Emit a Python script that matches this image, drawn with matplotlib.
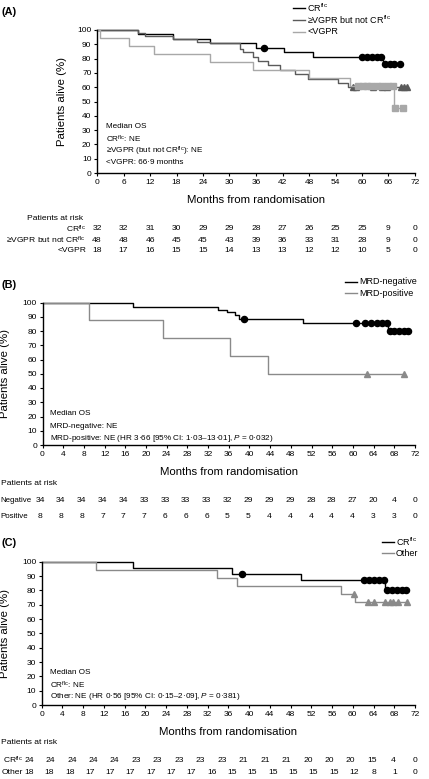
import numpy as np
import matplotlib
matplotlib.use('Agg')
import matplotlib.pyplot as plt
from matplotlib.lines import Line2D

plt.rcParams['font.family'] = ['Liberation Sans', 'DejaVu Sans']
plt.rcParams['mathtext.fontset'] = 'custom'
plt.rcParams['mathtext.rm'] = 'Liberation Sans'
plt.rcParams['mathtext.it'] = 'Liberation Sans:italic'
plt.rcParams['mathtext.bf'] = 'Liberation Sans:bold'

# ---- panel A data (months, % alive) ----
a_cr_t = [0, 9.2, 17.3, 25.6, 36.1, 42.4, 49.0, 64.7]
a_cr_s = [100, 96.9, 93.8, 90.6, 87.5, 84.4, 81.3, 76.0]
a_cr_end = 68.5
a_cr_cens = [37.8, 60.0, 61.1, 62.2, 63.3, 64.4, 65.3, 66.3, 67.3, 68.5]

a_vg_t = [0, 9.2, 10.9, 17.3, 22.6, 25.6, 32.4, 33.0, 35.3, 36.5, 38.7, 41.4, 44.8, 47.8, 54.6, 56.8]
a_vg_s = [100, 97.9, 95.8, 93.8, 91.7, 90.6, 86.5, 84.4, 81.3, 78.1, 75.5, 72.3, 69.2, 66.0, 63.0, 60.0]
a_vg_end = 70.2
a_vg_cens = [58.0, 58.6, 62.5, 64.6, 65.6, 68.8, 69.6, 70.2]

a_lo_t = [0, 0.6, 7.3, 12.8, 25.6, 35.4, 48.0, 57.2, 67.2]
a_lo_s = [100, 94.4, 88.9, 83.3, 77.8, 72.2, 66.7, 61.1, 45.8]
a_lo_end = 69.3
a_lo_cens = [59.2, 60.2, 61.2, 62.0, 63.5, 64.5, 66.0, 67.0, 67.4, 69.3]

a_risk_labels = ['CR$^{\\mathrm{flc}}$', '\u2265VGPR but not CR$^{\\mathrm{flc}}$', '<VGPR']
a_risk = [[32, 32, 31, 30, 29, 29, 28, 27, 26, 25, 25, 9, 0],
          [48, 48, 46, 45, 45, 43, 39, 36, 33, 31, 28, 9, 0],
          [18, 17, 16, 15, 15, 14, 13, 13, 12, 12, 10, 5, 0]]

# ---- panel B data ----
b_neg_t = [0, 17.5, 34.0, 35.6, 37.2, 38.0, 50.4, 66.8]
b_neg_s = [100, 97.1, 95.0, 93.5, 91.2, 88.2, 85.3, 80.3]
b_neg_end = 70.6
b_neg_cens = [39.0, 60.5, 62.4, 63.5, 64.6, 65.7, 66.6, 67.2, 68.0, 68.9, 69.8, 70.6]

b_pos_t = [0, 9.0, 23.2, 36.2, 43.5]
b_pos_s = [100, 87.5, 75.0, 62.5, 50.0]
b_pos_end = 69.9
b_pos_cens = [62.8, 69.9]

b_risk_labels = ['Negative', 'Positive']
b_risk = [[34, 34, 34, 34, 34, 33, 33, 33, 33, 32, 29, 29, 29, 28, 28, 27, 20, 4, 0],
          [8, 8, 8, 7, 7, 7, 6, 6, 6, 5, 5, 4, 4, 4, 4, 4, 3, 3, 0]]

# ---- panel C data ----
c_cr_t = [0, 17.7, 36.8, 50.0, 66.3]
c_cr_s = [100, 95.8, 91.7, 87.5, 80.2]
c_cr_end = 70.3
c_cr_cens = [38.7, 62.1, 63.1, 64.1, 65.1, 66.0, 66.6, 67.5, 68.5, 69.4, 70.3]

c_ot_t = [0, 10.4, 33.9, 37.6, 57.8, 60.4]
c_ot_s = [100, 94.4, 88.9, 83.3, 77.8, 72.2]
c_ot_end = 70.5
c_ot_cens = [60.2, 62.9, 64.1, 66.3, 67.1, 67.8, 68.7, 70.5]

c_risk_labels = ['CR$^{\\mathrm{flc}}$', 'Other']
c_risk = [[24, 24, 24, 24, 24, 23, 23, 23, 23, 23, 21, 21, 21, 20, 20, 20, 15, 4, 0],
          [18, 18, 18, 17, 17, 17, 17, 17, 17, 16, 15, 15, 15, 15, 15, 15, 12, 8, 1, 0]]

W, H = 429, 779
fig = plt.figure(figsize=(W / 100, H / 100), dpi=100)

BLACK = '#000000'
DGREY = '#5a5a5a'
LGREY = '#a8a8a8'
MGREY = '#8a8a8a'
FS_TICK = 6.0
FS_SMALL = 5.9
FS_RISK = 6.1
FS_LEG = 6.5
FS_LAB = 8.2


def fx(x):
    return x / W


def fy(y):
    return 1 - y / H


def make_ax(x0, x1, ytop, ybot, step):
    ax = fig.add_axes([fx(x0), fy(ybot), (x1 - x0) / W, (ybot - ytop) / H])
    ax.set_xlim(0, 72)
    ax.set_ylim(0, 100)
    ax.set_xticks(np.arange(0, 73, step))
    ax.set_yticks(np.arange(0, 101, 10))
    for sp in ['top', 'right']:
        ax.spines[sp].set_visible(False)
    for sp in ['left', 'bottom']:
        ax.spines[sp].set_linewidth(1.0)
    ax.tick_params(length=2.5, width=0.8, pad=1.5, labelsize=FS_TICK)
    fig.text(fx((x0 + x1) / 2), fy(ybot + 27), 'Months from randomisation',
             ha='center', va='center', fontsize=FS_LAB)
    return ax


def km(ax, t, s, end, cens, color, marker, ms):
    tt = np.append(t, end)
    ss = np.append(s, s[-1])
    ax.step(tt, ss, where='post', color=color, lw=1.0, clip_on=False)
    idx = np.searchsorted(t, cens, side='right') - 1
    ax.plot(cens, np.asarray(s)[idx], ls='none', marker=marker, ms=ms,
            color=color, mec=color, clip_on=False)


def legend(x, ys, labels, colors):
    for y, lab, c in zip(ys, labels, colors):
        fig.add_artist(Line2D([fx(x), fx(x + 12)], [fy(y), fy(y)], color=c, lw=1.0))
        fig.text(fx(x + 14), fy(y), lab, ha='left', va='center', fontsize=FS_LEG)


def notes(x, ys, lines):
    for y, s in zip(ys, lines):
        fig.text(fx(x), fy(y), s, ha='left', va='center', fontsize=FS_SMALL)


def risk(title_xy, rows, labels, ys, label_x, label_ha, x_first, x_last, lab_fs=FS_RISK):
    fig.text(fx(title_xy[0]), fy(title_xy[1]), 'Patients at risk', ha='left',
             va='center', fontsize=FS_RISK)
    for row, lab, y in zip(rows, labels, ys):
        fig.text(fx(label_x), fy(y), lab, ha=label_ha, va='center', fontsize=lab_fs)
        xs = np.linspace(x_first, x_last, len(row))
        for xv, n in zip(xs, row):
            fig.text(fx(xv), fy(y), str(n), ha='center', va='center', fontsize=FS_RISK)


# ---------------- panel A ----------------
axA = make_ax(97, 415, 30, 173, 6)
km(axA, a_cr_t, a_cr_s, a_cr_end, a_cr_cens, BLACK, 'o', 4.4)
km(axA, a_vg_t, a_vg_s, a_vg_end, a_vg_cens, DGREY, '^', 4.2)
km(axA, a_lo_t, a_lo_s, a_lo_end, a_lo_cens, LGREY, 's', 4.0)
fig.text(fx(1), fy(12), '(A)', fontweight='bold', fontsize=7.8, ha='left', va='center')
fig.text(fx(62), fy(101.5), 'Patients alive (%)', rotation=90, ha='center',
         va='center', fontsize=FS_LAB)
legend(293, [8, 20, 32], a_risk_labels, [BLACK, DGREY, LGREY])
notes(106, [127, 139, 151, 163],
      ['Median OS', 'CR$^{\\mathrm{flc}}$: NE',
       '\u2265VGPR (but not CR$^{\\mathrm{flc}}$): NE', '<VGPR: 66\u00b79 months'])
risk((27, 218), a_risk, a_risk_labels, [229, 240, 251], 86, 'right', 97, 415)

# ---------------- panel B ----------------
axB = make_ax(42.5, 415, 302.5, 445, 4)
km(axB, b_neg_t, b_neg_s, b_neg_end, b_neg_cens, BLACK, 'o', 4.4)
km(axB, b_pos_t, b_pos_s, b_pos_end, b_pos_cens, MGREY, '^', 4.2)
fig.text(fx(1), fy(285), '(B)', fontweight='bold', fontsize=7.8, ha='left', va='center')
fig.text(fx(5), fy(374), 'Patients alive (%)', rotation=90, ha='center',
         va='center', fontsize=FS_LAB)
legend(345, [282, 293.5], ['MRD-negative', 'MRD-positive'], [BLACK, MGREY])
notes(50, [414, 426, 438],
      ['Median OS', 'MRD-negative: NE',
       'MRD-positive: NE (HR 3\u00b766 [95% CI: 1\u00b703\u201313\u00b701], $P$ = 0\u00b7032)'])
risk((1, 483), b_risk, b_risk_labels, [501, 516], 0.5, 'left', 40, 415, lab_fs=5.7)

# ---------------- panel C ----------------
axC = make_ax(41.7, 415, 561.7, 705, 4)
km(axC, c_cr_t, c_cr_s, c_cr_end, c_cr_cens, BLACK, 'o', 4.4)
km(axC, c_ot_t, c_ot_s, c_ot_end, c_ot_cens, MGREY, '^', 4.2)
fig.text(fx(1), fy(543), '(C)', fontweight='bold', fontsize=7.8, ha='left', va='center')
fig.text(fx(5), fy(633), 'Patients alive (%)', rotation=90, ha='center',
         va='center', fontsize=FS_LAB)
legend(382, [541.5, 553.3], ['CR$^{\\mathrm{flc}}$', 'Other'], [BLACK, MGREY])
notes(50, [673, 685, 697],
      ['Median OS', 'CR$^{\\mathrm{flc}}$: NE',
       'Other: NE (HR 0\u00b756 [95% CI: 0\u00b715\u20132\u00b709], $P$ = 0\u00b7381)'])
risk((1, 743), c_risk, c_risk_labels, [760, 773], 23, 'right', 29, 415)

fig.savefig('out.png', dpi=100)
